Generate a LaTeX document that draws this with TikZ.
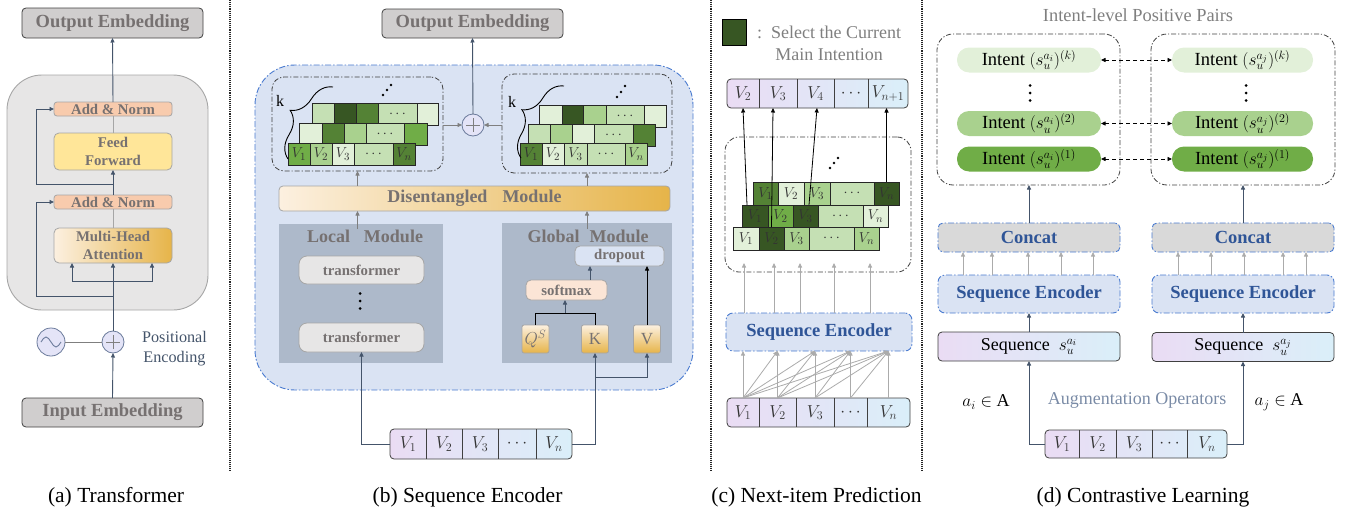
\documentclass[tikz,border=0pt]{standalone}
\usepackage{fontspec}
\setmainfont{Liberation Serif}
\usetikzlibrary{arrows.meta,calc,decorations.pathreplacing}
\definecolor{tgray}{HTML}{767171}
\definecolor{arrowc}{HTML}{44546A}
\definecolor{bdark}{HTML}{404040}
\definecolor{embfill}{HTML}{D0CECE}
\definecolor{contfill}{HTML}{E7E6E6}
\definecolor{contdraw}{HTML}{A6A6A6}
\definecolor{addfill}{HTML}{F8CBAD}
\definecolor{fffill}{HTML}{FFE699}
\definecolor{goldL}{HTML}{FCF0E0}
\definecolor{goldR}{HTML}{E6B449}
\definecolor{circfill}{HTML}{E4E4F7}
\definecolor{circdraw}{HTML}{6B7B9B}
\definecolor{bluefill}{HTML}{DAE3F3}
\definecolor{bluedraw}{HTML}{4A7BD0}
\definecolor{modfill}{HTML}{ADB9CA}
\definecolor{softfill}{HTML}{FBE5D6}
\definecolor{seqL}{HTML}{EADCF4}
\definecolor{seqR}{HTML}{DAEFF9}
\definecolor{g1}{HTML}{E2F0D9}
\definecolor{g2}{HTML}{C5E0B4}
\definecolor{g3}{HTML}{A9D18E}
\definecolor{g4}{HTML}{70AD47}
\definecolor{g5}{HTML}{548235}
\definecolor{g6}{HTML}{375623}
\definecolor{enctext}{HTML}{2F5597}
\definecolor{concatfill}{HTML}{D9D9D9}
\definecolor{garrc}{HTML}{7F7F7F}
\definecolor{lgarr}{HTML}{ABABAB}
\definecolor{augc}{HTML}{7A8BA6}
\definecolor{celltext}{HTML}{333333}
\newcommand{\fsz}[2]{\fontsize{#1pt}{#2pt}\selectfont}
\newcommand{\gc}[7]{\node[gcell, fill=#6, minimum width={(#4-#2)*1pt}, minimum height={(#5-#3)*1pt}, anchor=north west] (#1) at (#2,#3) {#7};}
\newcommand{\vdotsat}[2]{\fill (#1,#2-7.5) circle (1.5pt) (#1,#2) circle (1.5pt) (#1,#2+7.5) circle (1.5pt);}
\tikzset{
  every node/.style={inner sep=0pt, outer sep=0pt},
  arrtip/.style={-{Triangle[length=4.5pt,width=4pt]}},
  arr/.style={arrtip, draw=arrowc, line width=0.9pt},
  garr/.style={arrtip, draw=garrc, line width=0.8pt},
  larr/.style={arrtip, draw=lgarr, line width=0.8pt},
  karr/.style={arrtip, draw=black, line width=0.8pt},
  darr/.style={{Triangle[length=4.5pt,width=4pt]}-{Triangle[length=4.5pt,width=4pt]}, draw=black, dash pattern=on 4pt off 3pt, line width=0.8pt},
  embbox/.style={draw=bdark, fill=embfill, rounded corners=4pt, line width=0.8pt, font=\fsz{18.5}{22}\bfseries, text=tgray},
  tbox/.style={draw=contdraw, rounded corners=3pt, line width=0.8pt, font=\fsz{14.8}{18}\bfseries, text=tgray, align=center},
  circnode/.style={circle, draw=circdraw, fill=circfill, line width=0.8pt},
  bluebox/.style={draw=bluedraw, fill=bluefill, dash pattern=on 6pt off 2pt on 1.5pt off 2pt, line width=0.9pt},
  ddbox/.style={draw=bdark, dash pattern=on 5pt off 2pt on 1.2pt off 2pt, line width=0.8pt, rounded corners=12pt},
  gcell/.style={draw=black!85, line width=0.6pt, font=\fsz{15}{17}, text=celltext},
  seqbox/.style={draw=bdark, line width=0.8pt, rounded corners=4pt, left color=seqL, right color=seqR},
  seqsep/.style={draw=bdark, line width=0.8pt},
  seqlab/.style={font=\fsz{16.5}{19}, text=celltext},
  modlab/.style={font=\fsz{18}{21}\bfseries, text=tgray},
  enclab/.style={font=\fsz{18.5}{22}\bfseries, text=enctext},
  intentbox/.style={rounded corners=12pt, font=\fsz{18.5}{21}, text=black, minimum width=144pt, minimum height=25pt},
  qkvbox/.style={draw=contdraw, line width=0.8pt, rounded corners=2pt, top color=goldL, bottom color=goldR, minimum width=27pt, minimum height=28pt, font=\fsz{17}{20}, text=tgray},
  captxt/.style={font=\fsz{21.5}{24}, text=black, anchor=base},
  sepline/.style={densely dotted, line width=1.1pt, draw=black!85},
}
\begin{document}
\begin{tikzpicture}[x=1pt,y=-1pt]
\useasboundingbox (0,0) rectangle (1346,514);

% ---------------- separators
\draw[sepline] (230,0) -- (230,471);
\draw[sepline] (711,0) -- (711,471);
\draw[sepline] (922,0) -- (922,471);

% ---------------- (a) Transformer
\node[draw=contdraw, fill=contfill, rounded corners=35pt, line width=0.9pt, minimum width=201pt, minimum height=235pt] (acont) at (107.5,192.5) {};
\node[embbox, minimum width=181pt, minimum height=30pt] (aout) at (112.5,23) {Output Embedding};
\node[tbox, fill=addfill, minimum width=118pt, minimum height=14pt] (aadd2) at (113,109) {Add \& Norm};
\node[tbox, fill=fffill, minimum width=118pt, minimum height=37pt, rounded corners=5pt] (aff) at (113,151.5) {Feed\\Forward};
\node[tbox, fill=addfill, minimum width=118pt, minimum height=14pt] (aadd1) at (113,202) {Add \& Norm};
\node[tbox, left color=goldL, right color=goldR, minimum width=118pt, minimum height=35pt, rounded corners=5pt] (amha) at (113,245.5) {Multi-Head\\Attention};
\node[circnode, minimum size=28pt] (asin) at (51,342) {};
\node[circnode, minimum size=22pt] (aplus) at (113,342) {};
\node[embbox, minimum width=181pt, minimum height=29pt] (ain) at (112.5,412.5) {Input Embedding};
\node[font=\fsz{16.2}{20}, text=arrowc, align=center] (apos) at (174.5,349) {Positional\\Encoding};
\draw[line width=0.9pt, draw=circdraw] ($(asin)+(-10,0)$) sin ($(asin)+(-5,-5)$) cos ($(asin)$) sin ($(asin)+(5,5)$) cos ($(asin)+(10,0)$);
\draw[line width=0.8pt, draw=garrc] ($(aplus)+(-7,0)$) -- ($(aplus)+(7,0)$) ($(aplus)+(0,-7)$) -- ($(aplus)+(0,7)$);
\draw[arr] (ain.north) -- (aplus.south);
\draw[line width=0.9pt, draw=garrc] (asin.east) -- (aplus.west);
\draw[arr] (aplus.north) -- (amha.south);
\coordinate (abr) at (113,281);
\draw[arr] (abr) -| ([xshift=-41pt]amha.south);
\draw[arr] (abr) -| ([xshift=39pt]amha.south);
\coordinate (ar1) at (113,296);
\draw[arr] (ar1) -- ++(-77,0) |- (aadd1.west);
\draw[line width=0.9pt, draw=contdraw] (amha.north) -- (aadd1.south);
\draw[arr] (aadd1.north) -- (aff.south);
\coordinate (ar2) at (113,184);
\draw[arr] (ar2) -- ++(-77,0) |- (aadd2.west);
\draw[line width=0.9pt, draw=contdraw] (aff.north) -- (aadd2.south);
\draw[arr] (aadd2.north) -- (aout.south);

% ---------------- (b) Sequence Encoder
\node[bluebox, rounded corners=40pt, minimum width=438pt, minimum height=325pt] (bcont) at (474,227.5) {};
\node[embbox, minimum width=181pt, minimum height=29pt] (bout) at (472.5,23.5) {Output Embedding};
\node[ddbox, minimum width=171pt, minimum height=94pt] (bL) at (357.5,124) {};
\node[ddbox, minimum width=170pt, minimum height=99pt] (bR) at (587,123.5) {};
% left stack
\gc{bl31}{312}{103}{334}{125}{g2}{}
\gc{bl32}{334}{103}{356}{125}{g6}{}
\gc{bl33}{356}{103}{378}{125}{g5}{}
\gc{bl34}{378}{103}{417}{125}{g2}{$\cdots$}
\gc{bl35}{417}{103}{438}{125}{g1}{}
\gc{bl21}{299}{123}{322}{145}{g1}{}
\gc{bl22}{322}{123}{344}{145}{g5}{}
\gc{bl23}{344}{123}{366}{145}{g3}{}
\gc{bl24}{366}{123}{404}{145}{g2}{$\cdots$}
\gc{bl25}{404}{123}{427}{145}{g4}{}
\gc{bl11}{288}{143}{310}{165}{g4}{$V_1$}
\gc{bl12}{310}{143}{332}{165}{g3}{$V_2$}
\gc{bl13}{332}{143}{354}{165}{g1}{$V_3$}
\gc{bl14}{354}{143}{393}{165}{g2}{$\cdots$}
\gc{bl15}{393}{143}{415}{165}{g5}{$V_n$}
% right stack
\gc{br31}{539}{105}{562}{127}{g1}{}
\gc{br32}{562}{105}{583}{127}{g6}{}
\gc{br33}{583}{105}{606}{127}{g3}{}
\gc{br34}{606}{105}{644}{127}{g2}{$\cdots$}
\gc{br35}{644}{105}{666}{127}{g1}{}
\gc{br21}{528}{124}{550}{146}{g2}{}
\gc{br22}{550}{124}{572}{146}{g3}{}
\gc{br23}{572}{124}{594}{146}{g1}{}
\gc{br24}{594}{124}{633}{146}{g2}{$\cdots$}
\gc{br25}{633}{124}{655}{146}{g5}{}
\gc{br11}{520}{143}{542}{165}{g5}{$V_1$}
\gc{br12}{542}{143}{564}{165}{g1}{$V_2$}
\gc{br13}{564}{143}{587}{165}{g2}{$V_3$}
\gc{br14}{587}{143}{625}{165}{g2}{$\cdots$}
\gc{br15}{625}{143}{647}{165}{g3}{$V_n$}
\draw[line width=0.9pt, decorate, decoration={brace, amplitude=24pt}] (288,159) -- (333,87);
\draw[line width=0.9pt, decorate, decoration={brace, amplitude=24pt}] (521,158) -- (564,86);
\node[font=\fsz{16}{18}] (bkl) at (280,101) {k};
\node[font=\fsz{16}{18}] (bkr) at (512,102) {k};
\fill (383,95) circle (1.3pt) (387,90) circle (1.3pt) (391,85) circle (1.3pt);
\fill (617,97) circle (1.3pt) (621,92) circle (1.3pt) (625,86) circle (1.3pt);
\node[circnode, minimum size=22pt] (bplus) at (473,125) {};
\draw[line width=0.8pt, draw=garrc] ($(bplus)+(-7,0)$) -- ($(bplus)+(7,0)$) ($(bplus)+(0,-7)$) -- ($(bplus)+(0,7)$);
\node[draw=contdraw, line width=0.8pt, rounded corners=4pt, left color=goldL, right color=goldR, minimum width=391pt, minimum height=25pt, modlab] (bdis) at (474.5,198.5) {Disentangled\hspace{15pt}Module};
\node[fill=modfill, minimum width=164pt, minimum height=139pt] (bloc) at (361,293.5) {};
\node[fill=modfill, minimum width=170pt, minimum height=140pt] (bglob) at (587,293) {};
\node[modlab] (bloct) at (365,236) {Local\hspace{14pt}Module};
\node[modlab] (bglobt) at (588,236) {Global\hspace{10pt}Module};
\node[tbox, fill=contfill, rounded corners=8pt, minimum width=125pt, minimum height=28pt] (btr1) at (361.5,270) {transformer};
\node[tbox, fill=contfill, rounded corners=8pt, minimum width=125pt, minimum height=29pt] (btr2) at (361.5,337.5) {transformer};
\vdotsat{360}{301}
\node[tbox, fill=bluefill, rounded corners=5pt, minimum width=89pt, minimum height=20pt] (bdrop) at (619.5,256) {dropout};
\node[tbox, fill=softfill, rounded corners=5pt, minimum width=81pt, minimum height=20pt] (bsoft) at (566.5,290) {softmax};
\node[qkvbox] (bq) at (535.5,339) {$Q^S$};
\node[qkvbox] (bk) at (595,339) {K};
\node[qkvbox] (bv) at (647,339) {V};
\node[seqbox, minimum width=182pt, minimum height=30pt] (bseq) at (481,444) {};
\foreach \x in {426,462,498,536} \draw[seqsep] (\x,429) -- (\x,459);
\node[seqlab] (bs1) at (408,444) {$V_1$};
\node[seqlab] (bs2) at (444,444) {$V_2$};
\node[seqlab] (bs3) at (480,444) {$V_3$};
\node[seqlab] (bs4) at (517,444) {$\cdots$};
\node[seqlab] (bs5) at (554,444) {$V_n$};
\draw[garr] (bL.east |- bplus.west) -- (bplus.west);
\draw[garr] (bR.west |- bplus.east) -- (bplus.east);
\draw[arr] (bplus.north) -- (bout.south);
\draw[garr] (bL.south |- bdis.north) -- (bL.south);
\draw[garr] (bR.south |- bdis.north) -- (bR.south);
\coordinate (blm) at (357.5,229);
\draw[garr] (blm) -- (blm |- bdis.south);
\coordinate (bgm) at (587,229);
\draw[garr] (bgm) -- (bgm |- bdis.south);
\draw[arr] (bseq.west) -| (btr2.south);
\draw[arr] (bseq.east) -| (bk.south);
\coordinate (bkv) at (595,377);
\draw[arr] (bkv) -| (bv.south);
\draw[line width=0.9pt] (bq.north) |- ($(bk.north)+(0,-12)$) -- (bk.north);
\coordinate (bqk) at (565,313);
\draw[arr] (bqk) -- (bqk |- bsoft.south);
\draw[arr] ([xshift=23.5pt]bsoft.north) -- ++(0,-14);
\draw[karr] (bv.north) -- (bv.north |- bdrop.south);

% ---------------- (c) Next-item Prediction
\node[draw=black, fill=g6, line width=0.6pt, minimum width=24pt, minimum height=26pt] (cleg) at (734.5,32) {};
\node[font=\fsz{18}{22}, text=garrc, align=center] (clegt) at (829,43) {:\ \ Select the Current\\Main Intention};
\node[seqbox, minimum width=181pt, minimum height=29pt] (ctop) at (817.5,93.5) {};
\foreach \x in {759,797,834,868} \draw[seqsep] (\x,79) -- (\x,108);
\node[seqlab] (cq1) at (743,93.5) {$V_2$};
\node[seqlab] (cq2) at (778,93.5) {$V_3$};
\node[seqlab] (cq3) at (815.5,93.5) {$V_4$};
\node[seqlab] (cq4) at (851,93.5) {$\cdots$};
\node[seqlab] (cq5) at (888,93.5) {$V_{n+1}$};
\node[ddbox, rounded corners=14pt, minimum width=186pt, minimum height=135pt] (cbox) at (818,204.5) {};
\gc{ct1}{753}{182}{778}{205}{g5}{$V_1$}
\gc{ct2}{778}{182}{804}{205}{g1}{$V_2$}
\gc{ct3}{804}{182}{830}{205}{g3}{$V_3$}
\gc{ct4}{830}{182}{874}{205}{g2}{$\cdots$}
\gc{ct5}{874}{182}{899}{205}{g6}{$V_n$}
\gc{cm1}{742}{205}{768}{227}{g6}{$V_1$}
\gc{cm2}{768}{205}{793}{227}{g4}{$V_2$}
\gc{cm3}{793}{205}{818}{227}{g6}{$V_3$}
\gc{cm4}{818}{205}{863}{227}{g2}{$\cdots$}
\gc{cm5}{863}{205}{888}{227}{g1}{$V_n$}
\gc{cb1}{733}{227}{759}{250}{g1}{$V_1$}
\gc{cb2}{759}{227}{784}{250}{g6}{$V_2$}
\gc{cb3}{784}{227}{809}{250}{g3}{$V_3$}
\gc{cb4}{809}{227}{854}{250}{g2}{$\cdots$}
\gc{cb5}{854}{227}{879}{250}{g3}{$V_n$}
\fill (830,168) circle (1.3pt) (834,163) circle (1.3pt) (838,158) circle (1.3pt);
\draw[karr] ($(cm1.north west)+(5,0)$) -- (cq1 |- ctop.south);
\draw[karr] (cb2.north) -- ($(cq2 |- ctop.south)+(-5,0)$);
\draw[karr] ($(cm3.north)+(3.5,0)$) -- ($(cq3 |- ctop.south)+(1.5,0)$);
\draw[karr] (ct5.north) -- (ct5.north |- ctop.south);
\node[bluebox, rounded corners=7pt, minimum width=186pt, minimum height=38pt, enclab] (cenc) at (819,332) {Sequence Encoder};
\foreach \dx in {-75,-45,-19,15,51} \draw[larr] ([xshift=\dx pt]cenc.north) -- ++(0,-50);
\node[seqbox, minimum width=183pt, minimum height=29pt] (cseq) at (818.5,412.5) {};
\foreach \x in {759,796,834,867} \draw[seqsep] (\x,398) -- (\x,427);
\node[seqlab] (cs1) at (743,412.5) {$V_1$};
\node[seqlab] (cs2) at (777.5,412.5) {$V_2$};
\node[seqlab] (cs3) at (815,412.5) {$V_3$};
\node[seqlab] (cs4) at (850.5,412.5) {$\cdots$};
\node[seqlab] (cs5) at (888.5,412.5) {$V_n$};
\foreach \i in {1,...,5}{\foreach \j in {\i,...,5}{\draw[larr] (cs\i |- cseq.north) -- (cs\j |- cenc.south);}}

% ---------------- (d) Contrastive Learning
\node[font=\fsz{18.4}{22}, text=garrc] (dtitle) at (1138,15) {Intent-level Positive Pairs};
\node[ddbox, rounded corners=16pt, minimum width=183pt, minimum height=151pt] (dL) at (1028.5,109.5) {};
\node[ddbox, rounded corners=16pt, minimum width=184pt, minimum height=151pt] (dR) at (1243,109.5) {};
\node[intentbox, fill=g1] (dLk) at (1029,60) {Intent $(s_u^{a_i})^{(k)}$};
\node[intentbox, fill=g3] (dL2) at (1029,123.5) {Intent $(s_u^{a_i})^{(2)}$};
\node[intentbox, fill=g4] (dL1) at (1029,159) {Intent $(s_u^{a_i})^{(1)}$};
\node[intentbox, fill=g1, minimum width=141pt] (dRk) at (1242.5,60) {Intent $(s_u^{a_j})^{(k)}$};
\node[intentbox, fill=g3, minimum width=141pt] (dR2) at (1242.5,123.5) {Intent $(s_u^{a_j})^{(2)}$};
\node[intentbox, fill=g4, minimum width=141pt] (dR1) at (1242.5,159) {Intent $(s_u^{a_j})^{(1)}$};
\vdotsat{1030}{93}
\vdotsat{1246}{93}
\draw[darr] (dLk.east) -- (dRk.west);
\draw[darr] (dL2.east) -- (dR2.west);
\draw[darr] (dL1.east) -- (dR1.west);
\node[bluebox, fill=concatfill, rounded corners=5pt, minimum width=182pt, minimum height=29pt, enclab] (dcL) at (1029,237.5) {Concat};
\node[bluebox, fill=concatfill, rounded corners=5pt, minimum width=182pt, minimum height=29pt, enclab] (dcR) at (1243,237.5) {Concat};
\node[bluebox, rounded corners=7pt, minimum width=182pt, minimum height=38pt, enclab] (deL) at (1029,294) {Sequence Encoder};
\node[bluebox, rounded corners=7pt, minimum width=182pt, minimum height=38pt, enclab] (deR) at (1243,294) {Sequence Encoder};
\node[seqbox, minimum width=182pt, minimum height=29pt, font=\fsz{18}{20}] (dsL) at (1029,346.5) {Sequence\ \ $s_u^{a_i}$};
\node[seqbox, minimum width=182pt, minimum height=29pt, font=\fsz{18}{20}] (dsR) at (1243,347) {Sequence\ \ $s_u^{a_j}$};
\node[font=\fsz{18}{20}] (dai) at (986,402) {$a_i \in$ A};
\node[font=\fsz{18}{20}] (daj) at (1279,402) {$a_j \in$ A};
\node[font=\fsz{18}{20}, text=augc] (daug) at (1137,400) {Augmentation Operators};
\node[seqbox, minimum width=182pt, minimum height=28pt] (dseq) at (1136,444) {};
\foreach \x in {1079,1116,1152,1187} \draw[seqsep] (\x,430) -- (\x,458);
\node[seqlab] (ds1) at (1062,444) {$V_1$};
\node[seqlab] (ds2) at (1097.5,444) {$V_2$};
\node[seqlab] (ds3) at (1134,444) {$V_3$};
\node[seqlab] (ds4) at (1169.5,444) {$\cdots$};
\node[seqlab] (ds5) at (1207,444) {$V_n$};
\draw[arr] (dseq.west) -| (dsL.south);
\draw[arr] (dseq.east) -| (dsR.south);
\draw[arr] (dsL.north) -- (deL.south);
\draw[arr] (dsR.north) -- (deR.south);
\foreach \dx in {-66,-37,-1,32,64} \draw[larr] ([xshift=\dx pt]deL.north) -- ++(0,-23);
\foreach \dx in {-65,-32,1,40,63} \draw[larr] ([xshift=\dx pt]deR.north) -- ++(0,-23);
\draw[arr] (dcL.north) -- (dcL.north |- dL.south);
\draw[arr] (dcR.north) -- (dcR.north |- dR.south);

% ---------------- captions
\node[captxt] (capa) at (116,502) {(a) Transformer};
\node[captxt] (capb) at (467.5,502) {(b) Sequence Encoder};
\node[captxt] (capc) at (816.5,502) {(c) Next-item Prediction};
\node[captxt] (capd) at (1143,502) {(d) Contrastive Learning};
\end{tikzpicture}
\end{document}
